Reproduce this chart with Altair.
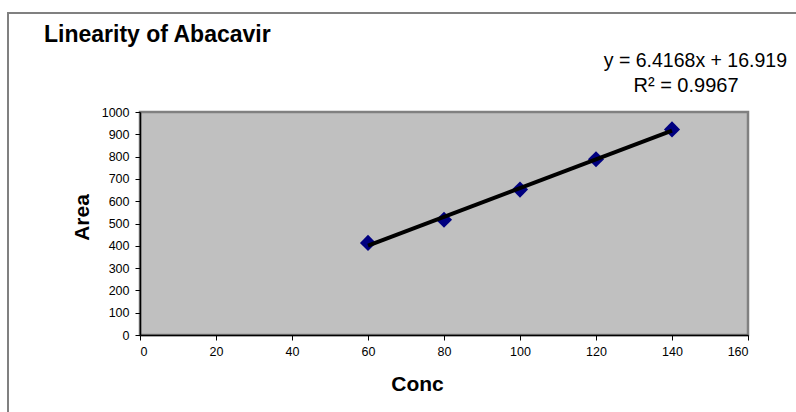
import altair as alt
import pandas as pd

conc = [60, 80, 100, 120, 140]
area = [413, 517, 652, 788, 922]

title_text = "Linearity of Abacavir"
eq_text = "y = 6.4168x + 16.919"
r2_text = "R² = 0.9967"

df = pd.DataFrame({"Conc": conc, "Area": area})

W, H = 608, 223
FONT = "Liberation Sans"

xscale = alt.Scale(domain=[0, 160], nice=False)
yscale = alt.Scale(domain=[0, 1000], nice=False)

xaxis = alt.Axis(values=list(range(0, 161, 20)), format="d", title="Conc",
                 titleX=277, titleY=55, titleBaseline="alphabetic")
yaxis = alt.Axis(values=list(range(0, 1001, 100)), format="d", title="Area",
                 titleX=-52, titleY=105, titleAngle=-90, titleAlign="center", titleBaseline="alphabetic")

base = alt.Chart(df)

frame = base.mark_rect(fill=None, stroke="#808080", strokeWidth=1.5).encode(
    x=alt.value(-132), x2=alt.value(720), y=alt.value(-99), y2=alt.value(400))

points = base.mark_point(shape="diamond", filled=True, color="#000080", size=260, opacity=1).encode(
    x=alt.X("Conc:Q", scale=xscale, axis=xaxis),
    y=alt.Y("Area:Q", scale=yscale, axis=yaxis),
)

trend = base.transform_regression("Conc", "Area", extent=[60, 140]).mark_line(
    color="black", strokeWidth=4).encode(
    x=alt.X("Conc:Q", scale=xscale, axis=xaxis),
    y=alt.Y("Area:Q", scale=yscale, axis=yaxis),
)

title = alt.Chart(pd.DataFrame({"t": [title_text]})).mark_text(
    align="left", baseline="alphabetic", font=FONT, fontSize=23, fontWeight="bold", color="black").encode(
    x=alt.value(-96), y=alt.value(-70), text="t:N")

eq = alt.Chart(pd.DataFrame({"t": [eq_text]})).mark_text(
    align="right", baseline="alphabetic", font=FONT, fontSize=19.5, color="black").encode(
    x=alt.value(647), y=alt.value(-45), text="t:N")

r2 = alt.Chart(pd.DataFrame({"t": [r2_text]})).mark_text(
    align="center", baseline="alphabetic", font=FONT, fontSize=20, color="black").encode(
    x=alt.value(546), y=alt.value(-20), text="t:N")

chart = alt.layer(frame, points, trend, title, eq, r2).properties(
    width=W, height=H,
    autosize=alt.AutoSizeParams(type="none"),
    padding={"left": 140, "top": 112, "right": 48, "bottom": 77},
    background="white",
).configure_view(fill="#C0C0C0", stroke="#808080", strokeWidth=2.5).configure_axis(
    grid=False, domainColor="black", domainWidth=1.5, tickColor="black", tickSize=5,
    labelFontSize=12.5, labelColor="black", labelFont=FONT, labelOverlap=False,
    titleFont=FONT, titleFontSize=21, titleFontWeight="bold", titleColor="black",
).configure_axisX(labelPadding=5).configure_axisY(labelPadding=6)

chart.save("out.html", embed_options={"renderer": "svg", "actions": False})
